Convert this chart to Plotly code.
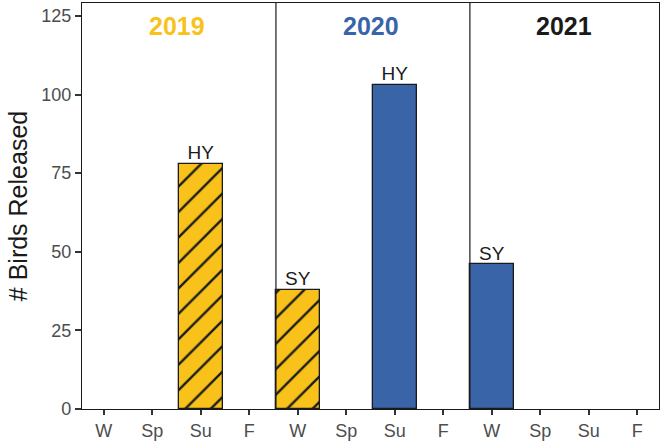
import plotly.graph_objects as go

seasons = ["W", "Sp", "Su", "F"]
years = ["2019", "2020", "2021"]
year_colors = ["#F9C21A", "#3A64A8", "#1A1A1A"]
released = [0, 0, 78, 0, 38, 0, 103, 0, 46, 0, 0, 0]
age_class = ["", "", "HY", "", "SY", "", "HY", "", "SY", "", "", ""]
cohort = ["", "", "2019", "", "2019", "", "2020", "", "2020", "", "", ""]

tick_text = seasons * len(years)
positions = list(range(len(tick_text)))

fig = go.Figure()

for coh, color, hatched in [("2019", "#F9C21A", True), ("2020", "#3A64A8", False)]:
    xs = [p for p, c in zip(positions, cohort) if c == coh]
    ys = [released[p] for p in xs]
    marker = dict(color=color, line=dict(color="#1A1A1A", width=1.3))
    if hatched:
        marker["pattern"] = dict(shape="/", size=18, fgcolor="#1A1A1A", fgopacity=1,
                                 solidity=0.13, fillmode="overlay")
    fig.add_trace(go.Bar(x=xs, y=ys, width=0.9, marker=marker, showlegend=False))

lab_x = [p for p in positions if age_class[p]]
fig.add_trace(go.Scatter(
    x=lab_x, y=[released[p] for p in lab_x], text=[age_class[p] for p in lab_x],
    mode="text", textposition="top center",
    textfont=dict(size=19, color="#1A1A1A", family="Liberation Sans"),
    showlegend=False, cliponaxis=False))

for i, (yr, col) in enumerate(zip(years, year_colors)):
    fig.add_annotation(x=i * 4 + 1.5, y=121.7, text="<b>%s</b>" % yr, showarrow=False,
                       font=dict(size=25, color=col, family="Liberation Sans"), xref="x", yref="y")

for xv in [3.55, 7.55]:
    fig.add_shape(type="line", x0=xv, x1=xv, y0=0, y1=1, xref="x", yref="paper",
                  line=dict(color="#1A1A1A", width=1.2))

fig.update_layout(
    width=664, height=442,
    margin=dict(l=82, r=5, t=3, b=33),
    plot_bgcolor="white", paper_bgcolor="white",
    font=dict(family="Liberation Sans", color="#4D4D4D"),
    bargap=0,
)
fig.update_xaxes(
    range=[-0.45, 11.45], tickvals=positions, ticktext=tick_text,
    showline=True, mirror=True, linecolor="#1A1A1A", linewidth=1.2,
    ticks="outside", ticklen=5, tickcolor="#333333", tickwidth=1.5,
    tickfont=dict(size=18, color="#4D4D4D"), showgrid=False, zeroline=False,
    automargin=False,
)
fig.update_yaxes(
    range=[0, 129.1], tickvals=[0, 25, 50, 75, 100, 125],
    showline=True, mirror=True, linecolor="#1A1A1A", linewidth=1.2,
    ticks="outside", ticklen=6, tickcolor="#333333", tickwidth=1.5,
    tickfont=dict(size=18, color="#4D4D4D"), showgrid=False, zeroline=False,
    title=dict(text="# Birds Released", font=dict(size=25, color="#1A1A1A"), standoff=6),
    automargin=False,
)

fig.write_html("out.html")
